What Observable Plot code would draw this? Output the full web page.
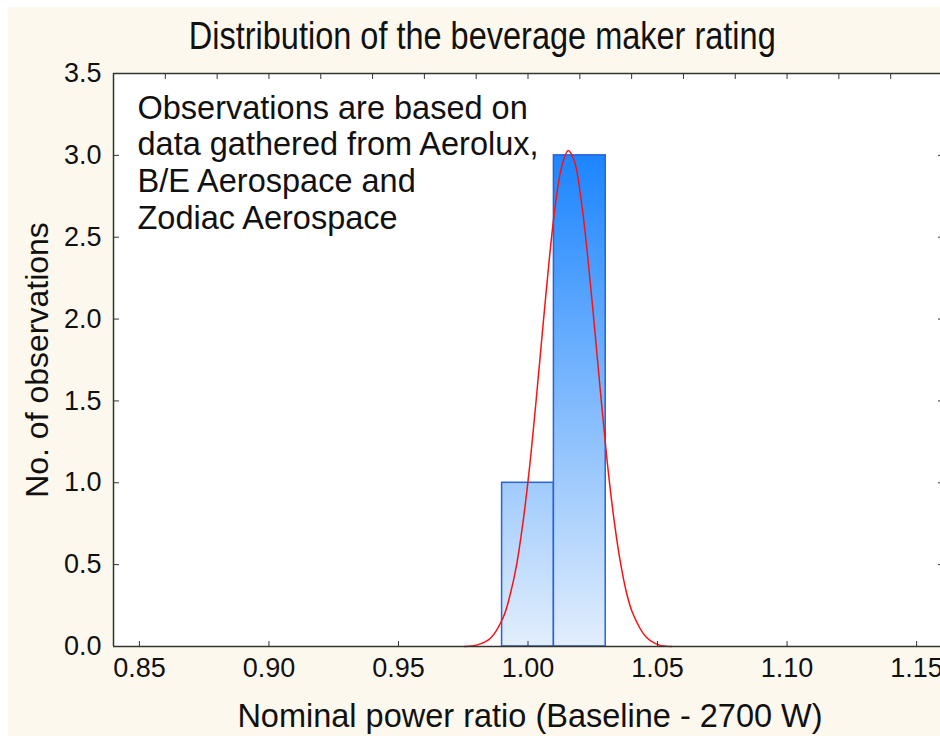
<!DOCTYPE html>
<html><head><meta charset="utf-8">
<script src="https://cdn.jsdelivr.net/npm/d3@7"></script>
<script src="https://cdn.jsdelivr.net/npm/@observablehq/plot@0.6"></script>
<style>
html,body{margin:0;padding:0;background:#fff;overflow:hidden;width:940px;height:736px;}
#outer{position:absolute;left:8px;top:7px;width:932px;height:729px;background:#fdf8ee;overflow:hidden;}
#title{height:56px;line-height:58px;text-align:center;padding-left:16px;box-sizing:border-box;font-family:"Liberation Sans",Arial,sans-serif;font-size:38px;color:#111;white-space:nowrap;}
#title span{display:inline-block;transform:scaleX(0.855);transform-origin:50% 50%;}
#chart{width:936px;}
#chart svg{display:block;max-width:none !important;}
</style></head><body>
<div id="outer"><div id="title"><span>Distribution of the beverage maker rating</span></div><div id="chart"></div></div>
<script>
// Histogram bins
const binStart = [0.99, 1.01];
const binEnd = [1.01, 1.03];
const counts = [1, 3];
// Fitted normal curve
const fitX = [0.9755, 0.9805, 0.9855, 0.9905, 0.993, 0.9955, 0.998, 1.0005, 1.003, 1.0055, 1.008, 1.0105, 1.013, 1.0155, 1.018, 1.0205, 1.023, 1.0255, 1.028, 1.0305, 1.033, 1.0355, 1.038, 1.0405, 1.0455, 1.0505, 1.0555];
const fitY = [0.00, 0.01, 0.05, 0.18, 0.31, 0.49, 0.75, 1.08, 1.48, 1.91, 2.33, 2.69, 2.93, 3.03, 2.96, 2.73, 2.39, 1.98, 1.55, 1.14, 0.80, 0.53, 0.33, 0.20, 0.06, 0.01, 0.00];
// Ticks
const xTicks = [0.85, 0.90, 0.95, 1.00, 1.05, 1.10, 1.15];
const xTopTicks = [0.86, 0.88, 0.90, 0.92, 0.94, 0.96, 0.98, 1.00, 1.02, 1.04, 1.06, 1.08, 1.10, 1.12, 1.14];
const yTicks = [0, 0.5, 1.0, 1.5, 2.0, 2.5, 3.0, 3.5];
const yRightTicks = [0.5, 1.0, 1.5, 2.0, 2.5, 3.0];
const xDomain = [0.84, 1.16];
const yDomain = [0, 3.5];
const xLabel = ["Nominal power ratio (Baseline - 2700 W)"];
const yLabel = ["No. of observations"];
const note = ["Observations are based on\ndata gathered from Aerolux,\nB/E Aerospace and\nZodiac Aerospace"];

const bins = counts.map((c, i) => ({x1: binStart[i], x2: binEnd[i], y: c}));
const fit = fitX.map((x, i) => ({x, y: fitY[i]}));

const gradientDefs = (index, scales) => {
  const ns = "http://www.w3.org/2000/svg";
  const defs = document.createElementNS(ns, "defs");
  const g = document.createElementNS(ns, "linearGradient");
  g.setAttribute("id", "barGrad");
  g.setAttribute("gradientUnits", "userSpaceOnUse");
  g.setAttribute("x1", 0); g.setAttribute("x2", 0);
  g.setAttribute("y1", scales.y(3)); g.setAttribute("y2", scales.y(0));
  [["0", "#1c85ff"], ["1", "#e2eefc"]].forEach(([o, c]) => {
    const s = document.createElementNS(ns, "stop");
    s.setAttribute("offset", o); s.setAttribute("stop-color", c);
    g.appendChild(s);
  });
  defs.appendChild(g);
  return defs;
};

const font = "'Liberation Sans', Arial, sans-serif";
const chart = Plot.plot({
  width: 936, height: 673,
  marginLeft: 105, marginRight: 2, marginTop: 10, marginBottom: 90,
  style: {fontFamily: font, fontSize: "27px", color: "#111", background: "transparent", overflow: "visible", maxWidth: "none"},
  x: {domain: xDomain, label: null},
  y: {domain: yDomain, label: null},
  marks: [
    Plot.frame({fill: "white", stroke: null}),
    gradientDefs,
    Plot.rectY(bins, {x1: "x1", x2: "x2", y: "y", fill: "url(#barGrad)", stroke: "#2b62d4", strokeWidth: 1.5}),
    Plot.line(fit, {x: "x", y: "y", stroke: "#ff1010", strokeWidth: 1.5, curve: "catmull-rom"}),
    Plot.ruleY(yDomain, {stroke: "#333", strokeWidth: 1.5}),
    Plot.ruleX([xDomain[0]], {stroke: "#333", strokeWidth: 1.5}),
    Plot.axisX(xTicks, {anchor: "bottom", tickSize: -5, tickPadding: 16, tickFormat: d3.format(".2f"), fontSize: 27, stroke: "#333", label: null}),
    Plot.axisX(xTopTicks, {anchor: "top", tickSize: -5, tickFormat: () => "", stroke: "#333", label: null}),
    Plot.axisY(yTicks, {anchor: "left", tickSize: -6, tickPadding: 18, tickFormat: d3.format(".1f"), fontSize: 27, stroke: "#333", label: null}),
    Plot.axisY(yRightTicks, {anchor: "right", tickSize: -5, tickFormat: () => "", stroke: "#333", label: null}),
    Plot.text(note, {text: d => d, frameAnchor: "top-left", textAnchor: "start", lineAnchor: "top", dx: 24, dy: 19, fontSize: 32.5, lineHeight: 1.13, fill: "#111"}),
    Plot.text(yLabel, {text: d => d, frameAnchor: "left", rotate: -90, dx: -76, fontSize: 32, textAnchor: "middle", lineAnchor: "middle", fill: "#111"}),
    Plot.text(xLabel, {text: d => d, frameAnchor: "bottom", dy: 70, dx: 2, fontSize: 32.5, textAnchor: "middle", lineAnchor: "middle", fill: "#111"})
  ]
});
document.getElementById("chart").appendChild(chart);
</script>
</body></html>
